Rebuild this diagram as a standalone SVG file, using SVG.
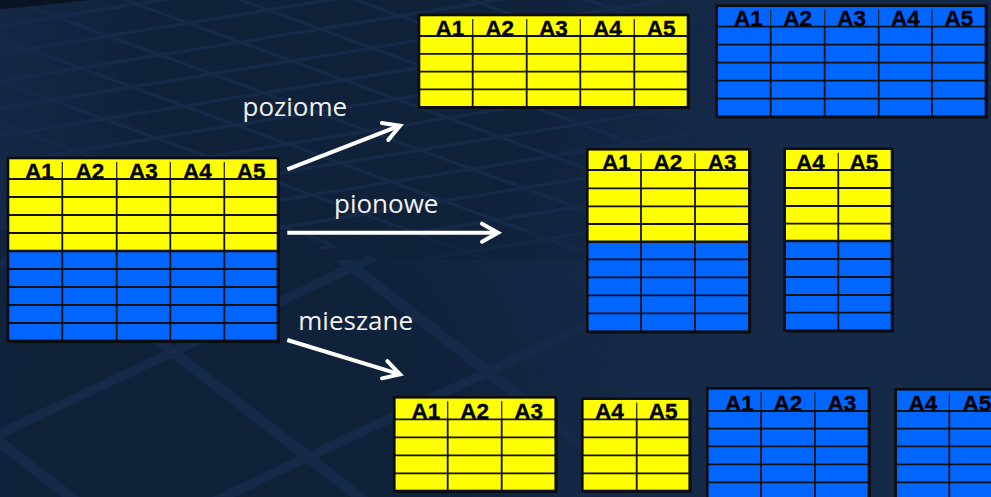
<svg xmlns="http://www.w3.org/2000/svg" width="991" height="497" viewBox="0 0 991 497">
  <defs>
    <style>
      .yel { fill: #ffff00; }
      .blu { fill: #0066ff; }
      .shadow { fill: #000; opacity: 0.55; }
      .grid { fill: none; stroke: #111; stroke-width: 1.8; }
      .split { fill: none; stroke: #111; stroke-width: 2.6; }
      .hdiv { fill: none; stroke: #2a2a2a; stroke-width: 1.3; }
      .frame { fill: none; stroke: #0d0d0d; stroke-width: 2.6; }
      .hdr { font-family: "Liberation Sans", Arial, sans-serif; font-weight: bold; font-size: 22.5px; fill: #000; stroke: #000; stroke-width: 0.35; text-anchor: middle; }
      .lbl { font-family: "Open Sans", "DejaVu Sans", sans-serif; font-size: 26px; fill: #f2f2f2; }
      .arrow { fill: none; stroke: #fff; stroke-width: 4; marker-end: url(#chevron); }
    </style>
    <marker id="chevron" markerUnits="userSpaceOnUse" viewBox="-24 -14 30 28" markerWidth="30" markerHeight="28" refX="0" refY="0" orient="auto" overflow="visible">
      <path d="M-16,-9 L0,0 L-16,9" fill="none" stroke="#fff" stroke-width="4" stroke-linecap="round" stroke-linejoin="miter"/>
    </marker>
    <!-- floor tiles, small (far) and large (near) -->
    <pattern id="tilesFar" patternUnits="userSpaceOnUse" width="100" height="100" patternTransform="matrix(0.8,-0.13,0.52,0.19,108,36)">
      <rect x="4" y="6" width="92" height="88" fill="#10213a"/>
    </pattern>
    <pattern id="tilesNear" patternUnits="userSpaceOnUse" width="100" height="100" patternTransform="matrix(1.8,-0.85,1.35,1.05,173,352)">
      <rect x="3" y="3" width="94" height="94" fill="#10213a"/>
    </pattern>
    <radialGradient id="fadeFar" gradientUnits="userSpaceOnUse" cx="340" cy="70" r="380">
      <stop offset="0" stop-color="#fff"/>
      <stop offset="0.5" stop-color="#fff"/>
      <stop offset="1" stop-color="#000"/>
    </radialGradient>
    <radialGradient id="fadeNear" gradientUnits="userSpaceOnUse" cx="220" cy="440" r="420">
      <stop offset="0" stop-color="#fff"/>
      <stop offset="0.5" stop-color="#fff"/>
      <stop offset="1" stop-color="#000"/>
    </radialGradient>
    <mask id="maskFar"><rect width="991" height="497" fill="url(#fadeFar)"/></mask>
    <mask id="maskNear"><rect width="991" height="497" fill="url(#fadeNear)"/></mask>
  </defs>

  <!-- backdrop -->
  <g id="backdrop">
    <rect width="991" height="497" fill="#152a48"/>
    <rect width="991" height="260" fill="url(#tilesFar)" mask="url(#maskFar)"/>
    <rect y="230" width="991" height="267" fill="url(#tilesNear)" mask="url(#maskNear)"/>
    <path d="M0,0 L0,9 Q40,6 88,0 Z" fill="#0a1321"/>
  </g>

  <!-- source table: 5 columns, 4 yellow + 5 blue rows -->
  <g id="source">
    <rect class="shadow" x="10" y="160" width="270" height="183"/>
    <rect class="yel" x="8" y="158" width="270" height="93"/>
    <rect class="blu" x="8" y="251" width="270" height="90"/>
    <text class="hdr" y="178.8"><tspan x="39.5">A1</tspan><tspan x="89.8">A2</tspan><tspan x="143.5">A3</tspan><tspan x="197.3">A4</tspan><tspan x="251.2">A5</tspan></text>
    <path class="hdiv" d="M62.3,162V179M116.7,162V179M170.3,162V179M224.3,162V179"/>
    <path class="grid" d="M8,179H278M8,197H278M8,215H278M8,233H278M8,269H278M8,287H278M8,305H278M8,323H278M62.3,179V341M116.7,179V341M170.3,179V341M224.3,179V341"/>
    <path class="split" d="M8,251H278"/>
    <rect class="frame" x="8" y="158" width="270" height="183"/>
  </g>

  <!-- horizontal split: yellow rows -->
  <g id="horiz-yellow">
    <rect class="shadow" x="421" y="17" width="269" height="92"/>
    <rect class="yel" x="419" y="15" width="269" height="92.3"/>
    <text class="hdr" y="35.6"><tspan x="450">A1</tspan><tspan x="499.7">A2</tspan><tspan x="553.5">A3</tspan><tspan x="607.3">A4</tspan><tspan x="661.2">A5</tspan></text>
    <path class="hdiv" d="M472.7,19V36M526.7,19V36M580.3,19V36M634.3,19V36"/>
    <path class="grid" d="M419,36H688M419,53.8H688M419,71.6H688M419,89.4H688M472.7,36V107.3M526.7,36V107.3M580.3,36V107.3M634.3,36V107.3"/>
    <rect class="frame" x="419" y="15" width="269" height="92.3"/>
  </g>

  <!-- horizontal split: blue rows -->
  <g id="horiz-blue">
    <rect class="shadow" x="718.7" y="7.7" width="269.3" height="111"/>
    <rect class="blu" x="716.7" y="5.7" width="269.3" height="111"/>
    <text class="hdr" y="26.3"><tspan x="748.5">A1</tspan><tspan x="797.7">A2</tspan><tspan x="851.7">A3</tspan><tspan x="905.3">A4</tspan><tspan x="959">A5</tspan></text>
    <path class="hdiv" d="M770.7,9.7V26.7M824.7,9.7V26.7M878.7,9.7V26.7M932,9.7V26.7"/>
    <path class="grid" d="M716.7,26.7H986M716.7,44.7H986M716.7,62.7H986M716.7,80.7H986M716.7,98.7H986M770.7,26.7V116.7M824.7,26.7V116.7M878.7,26.7V116.7M932,26.7V116.7"/>
    <rect class="frame" x="716.7" y="5.7" width="269.3" height="111"/>
  </g>

  <!-- vertical split: columns A1-A3 -->
  <g id="vert-a1a3">
    <rect class="shadow" x="589.3" y="151.3" width="162" height="182.4"/>
    <rect class="yel" x="587.3" y="149.3" width="162" height="92.4"/>
    <rect class="blu" x="587.3" y="241.7" width="162" height="90"/>
    <text class="hdr" y="169.6"><tspan x="616.5">A1</tspan><tspan x="668">A2</tspan><tspan x="722.2">A3</tspan></text>
    <path class="hdiv" d="M641,153.3V170M695,153.3V170"/>
    <path class="grid" d="M587.3,170H749.3M587.3,188.3H749.3M587.3,206.3H749.3M587.3,224H749.3M587.3,259.3H749.3M587.3,277.3H749.3M587.3,295.3H749.3M587.3,313.3H749.3M641,170V331.7M695,170V331.7"/>
    <path class="split" d="M587.3,241.7H749.3"/>
    <rect class="frame" x="587.3" y="149.3" width="162" height="182.4"/>
  </g>

  <!-- vertical split: columns A4-A5 -->
  <g id="vert-a4a5">
    <rect class="shadow" x="786.7" y="150.7" width="107.3" height="182"/>
    <rect class="yel" x="784.7" y="148.7" width="107.3" height="92.3"/>
    <rect class="blu" x="784.7" y="241" width="107.3" height="89.7"/>
    <text class="hdr" y="169.6"><tspan x="810.5">A4</tspan><tspan x="864">A5</tspan></text>
    <path class="hdiv" d="M838.3,152.7V170"/>
    <path class="grid" d="M784.7,170H892M784.7,188H892M784.7,206H892M784.7,223.7H892M784.7,259H892M784.7,277H892M784.7,295H892M784.7,312.7H892M838.3,170V330.7"/>
    <path class="split" d="M784.7,241H892"/>
    <rect class="frame" x="784.7" y="148.7" width="107.3" height="182"/>
  </g>

  <!-- mixed split: yellow rows, columns A1-A3 -->
  <g id="mixed-yellow-a1a3">
    <rect class="shadow" x="396.3" y="399.3" width="161.4" height="93.7"/>
    <rect class="yel" x="394.3" y="397.3" width="161.4" height="93.7"/>
    <text class="hdr" y="419"><tspan x="426">A1</tspan><tspan x="474.7">A2</tspan><tspan x="528.7">A3</tspan></text>
    <path class="hdiv" d="M447.7,401.3V419.3M501.7,401.3V419.3"/>
    <path class="grid" d="M394.3,419.3H555.7M394.3,437.3H555.7M394.3,455.3H555.7M394.3,473.3H555.7M447.7,419.3V491M501.7,419.3V491"/>
    <rect class="frame" x="394.3" y="397.3" width="161.4" height="93.7"/>
  </g>

  <!-- mixed split: yellow rows, columns A4-A5 -->
  <g id="mixed-yellow-a4a5">
    <rect class="shadow" x="584.3" y="400.7" width="107.4" height="92.3"/>
    <rect class="yel" x="582.3" y="398.7" width="107.4" height="92.3"/>
    <text class="hdr" y="419"><tspan x="609.5">A4</tspan><tspan x="663.2">A5</tspan></text>
    <path class="hdiv" d="M636.7,402.7V419.3"/>
    <path class="grid" d="M582.3,419.3H689.7M582.3,437.3H689.7M582.3,455.3H689.7M582.3,473.3H689.7M636.7,419.3V491"/>
    <rect class="frame" x="582.3" y="398.7" width="107.4" height="92.3"/>
  </g>

  <!-- mixed split: blue rows, columns A1-A3 -->
  <g id="mixed-blue-a1a3">
    <rect class="shadow" x="709.3" y="390.3" width="161.7" height="130"/>
    <rect class="blu" x="707.3" y="388.3" width="161.7" height="130"/>
    <text class="hdr" y="410.6"><tspan x="739.5">A1</tspan><tspan x="788">A2</tspan><tspan x="842">A3</tspan></text>
    <path class="hdiv" d="M761,392.3V411M815,392.3V411"/>
    <path class="grid" d="M707.3,411H869M707.3,428.7H869M707.3,446.3H869M707.3,464.3H869M707.3,482.3H869M761,411V518M815,411V518"/>
    <rect class="frame" x="707.3" y="388.3" width="161.7" height="130"/>
  </g>

  <!-- mixed split: blue rows, columns A4-A5 -->
  <g id="mixed-blue-a4a5">
    <rect class="shadow" x="897.7" y="391.3" width="107.3" height="130"/>
    <rect class="blu" x="895.7" y="389.3" width="107.3" height="130"/>
    <text class="hdr" y="410.6"><tspan x="923">A4</tspan><tspan x="977">A5</tspan></text>
    <path class="hdiv" d="M949.3,393.3V411"/>
    <path class="grid" d="M895.7,411H1003M895.7,428.7H1003M895.7,446.3H1003M895.7,464.3H1003M895.7,482.3H1003M949.3,411V518"/>
    <rect class="frame" x="895.7" y="389.3" width="107.3" height="130"/>
  </g>

  <!-- connectors -->
  <g id="connectors">
    <path class="arrow" d="M287.3,169.3L400,125.7"/>
    <path class="arrow" d="M287.3,232.7H498"/>
    <path class="arrow" d="M287.3,340L400,374.4"/>
  </g>

  <!-- connector labels -->
  <g id="labels">
    <text class="lbl" x="242.5" y="116">poziome</text>
    <text class="lbl" x="334" y="213.3">pionowe</text>
    <text class="lbl" x="298.3" y="330">mieszane</text>
  </g>
</svg>
